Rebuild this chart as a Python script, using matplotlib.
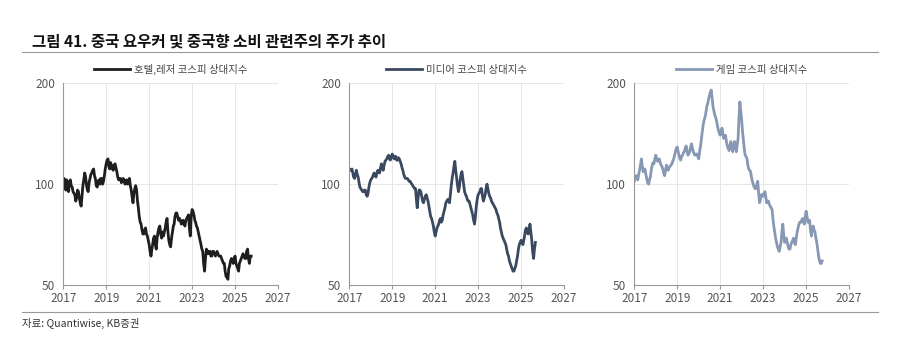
import numpy as np
import pandas as pd
import matplotlib
matplotlib.use('Agg')
import matplotlib.pyplot as plt
import matplotlib.dates as mdates
from matplotlib.ticker import FixedLocator, NullLocator

plt.rcParams['font.family'] = ['Noto Sans CJK KR', 'DejaVu Sans']

# relative index vs KOSPI: start-of-month readings, Jan 2017 onward
hotel = [100, 97, 103, 95, 103, 98, 94, 89, 96, 91, 86, 99,
         108, 99, 95, 104, 108, 111, 104, 98, 103, 104, 100, 106,
         115, 119, 111, 114, 110, 115, 109, 103, 104, 102, 103, 101,
         100, 104, 96, 88, 97, 96, 85, 77, 73, 71, 74, 70,
         66, 61, 66, 70, 64, 72, 75, 69, 70, 74, 79, 68,
         65, 72, 76, 82, 80, 79, 76, 78, 75, 79, 81, 70,
         84, 81, 77, 74, 70, 66, 63, 55, 64, 62, 63, 61,
         63, 61, 63, 61, 61, 59, 58, 53, 52, 57, 60, 58,
         61, 57, 55, 59, 61, 61, 60, 64, 58, 61]
# mid-month readings
hotel_mid = [104, 96, 99, 101, 99, 95, 93, 91, 95, 88, 92, 103,
             105, 96, 101, 107, 110, 106, 99, 102, 100, 104, 102, 111,
             118, 113, 116, 111, 114, 112, 105, 104, 101, 104, 100, 103,
             102, 99, 92, 94, 99, 89, 80, 76, 71, 73, 71, 68,
             63, 64, 69, 66, 69, 74, 71, 72, 72, 77, 72, 66,
             69, 75, 80, 82, 78, 78, 77, 76, 78, 80, 74, 80,
             83, 78, 75, 72, 68, 64, 58, 60, 63, 63, 61, 63,
             62, 62, 62, 61, 60, 58, 55, 53, 56, 59, 59, 60,
             58, 56, 58, 60, 62, 60, 63, 60, 61]

media = [111, 110, 108, 104, 110, 105, 98, 96, 95, 96, 92, 98,
         103, 105, 108, 105, 110, 108, 115, 110, 117, 119, 122, 118,
         123, 119, 121, 118, 119, 115, 110, 105, 104, 103, 102, 100,
         98, 97, 85, 96, 95, 89, 90, 93, 89, 83, 79, 75,
         70, 74, 76, 79, 78, 83, 88, 90, 88, 99, 108, 117,
         104, 95, 103, 109, 99, 93, 90, 89, 85, 81, 76, 86,
         93, 95, 97, 89, 93, 100, 94, 91, 88, 86, 84, 81,
         77, 72, 69, 67, 64, 61, 58, 56, 55, 57, 61, 66,
         68, 66, 70, 74, 71, 76, 68, 60, 67]
media_mid = [110, 111, 105, 107, 107, 101, 97, 95, 96, 93, 94, 101,
             104, 107, 106, 108, 109, 112, 112, 114, 118, 121, 119, 121,
             121, 121, 118, 120, 117, 112, 107, 104, 104, 102, 101, 99,
             97, 90, 91, 96, 92, 88, 92, 91, 86, 80, 77, 72,
             72, 75, 78, 77, 81, 85, 89, 89, 93, 104, 113, 110,
             99, 98, 107, 104, 95, 92, 89, 87, 83, 78, 80, 90,
             94, 97, 92, 91, 97, 97, 92, 89, 87, 85, 82, 79,
             74, 70, 68, 66, 62, 59, 57, 55, 56, 59, 64, 67,
             67, 68, 73, 72, 73, 72, 63, 64]

game = [102, 106, 103, 110, 119, 109, 111, 104, 100, 105, 114, 115,
        122, 117, 119, 114, 111, 106, 114, 110, 113, 115, 119, 125,
        129, 122, 118, 122, 125, 130, 122, 125, 132, 125, 122, 123,
        119, 130, 143, 155, 163, 174, 184, 191, 170, 161, 154, 145,
        140, 147, 137, 140, 130, 126, 134, 125, 134, 125, 137, 176,
        155, 134, 122, 119, 111, 109, 102, 98, 97, 102, 88, 93,
        92, 95, 88, 89, 86, 84, 75, 69, 65, 63, 67, 76,
        67, 69, 65, 64, 67, 69, 66, 72, 76, 77, 79, 76,
        83, 77, 78, 70, 75, 72, 67, 61, 58, 59]
game_mid = [105, 104, 107, 114, 113, 111, 107, 101, 103, 110, 116, 119,
            119, 118, 116, 113, 108, 110, 111, 112, 114, 117, 122, 128,
            125, 119, 121, 124, 128, 126, 123, 129, 128, 123, 123, 121,
            125, 137, 150, 158, 170, 179, 188, 180, 165, 158, 149, 142,
            144, 141, 139, 134, 128, 131, 129, 130, 129, 131, 158, 165,
            143, 127, 121, 114, 110, 105, 100, 97, 100, 94, 90, 93,
            94, 91, 89, 87, 85, 79, 72, 67, 64, 65, 72, 71,
            68, 67, 64, 66, 68, 67, 69, 74, 77, 78, 77, 80,
            80, 78, 73, 73, 73, 69, 64, 59, 58]

series = [
    ('호텔,레저 코스피 상대지수', hotel, hotel_mid, '#1e1e1e'),
    ('미디어 코스피 상대지수', media, media_mid, '#3b4960'),
    ('게임 코스피 상대지수', game, game_mid, '#8798b5'),
]
year_ticks = [pd.Timestamp(f'{y}-01-01') for y in range(2017, 2028, 2)]

fig = plt.figure(figsize=(9, 3.61), dpi=100)

lefts = [0.0703, 0.3881, 0.7048]
for left, (label, vals, mids, color) in zip(lefts, series):
    ax = fig.add_axes([left, 0.2105, 0.2386, 0.5587])
    d1 = pd.date_range('2017-01-01', periods=len(vals), freq='MS')
    d2 = d1[:len(mids)] + pd.Timedelta(days=15)
    s = pd.concat([pd.Series(vals, index=d1), pd.Series(mids, index=d2)]).sort_index()
    ax.plot(s.index, s.values, color=color, lw=2.0, label=label)
    ax.set_yscale('log')
    ax.set_ylim(50, 200)
    ax.yaxis.set_major_locator(FixedLocator([50, 100, 200]))
    ax.yaxis.set_minor_locator(NullLocator())
    ax.set_yticklabels(['50', '100', '200'])
    ax.set_xlim(pd.Timestamp('2017-01-01'), pd.Timestamp('2027-01-01'))
    ax.xaxis.set_major_locator(FixedLocator(mdates.date2num(year_ticks)))
    ax.xaxis.set_major_formatter(mdates.DateFormatter('%Y'))
    ax.grid(True, color='#e6e6e6', lw=0.7)
    ax.set_axisbelow(True)
    for sp in ['top', 'right']:
        ax.spines[sp].set_visible(False)
    for sp in ['left', 'bottom']:
        ax.spines[sp].set_color('#999999')
        ax.spines[sp].set_linewidth(0.8)
    ax.tick_params(axis='y', length=0, labelsize=8.5, labelcolor='#555555', pad=6)
    ax.tick_params(axis='x', length=3, color='#999999', labelsize=8.5,
                   labelcolor='#555555', pad=2)
    ax.legend(loc='lower center', bbox_to_anchor=(0.5, 0.995), frameon=False,
              fontsize=7.5, handlelength=3.5, handletextpad=0.4,
              labelcolor='#444444')

fig.text(0.035, 0.87, '그림 41. 중국 요우커 및 중국향 소비 관련주의 주가 추이',
         fontsize=11.2, fontweight='bold', color='#111111')
fig.add_artist(plt.Line2D([0.024, 0.976], [0.856, 0.856], color='#999999', lw=0.8))
fig.add_artist(plt.Line2D([0.024, 0.976], [0.136, 0.136], color='#999999', lw=0.8))
fig.text(0.025, 0.095, '자료: Quantiwise, KB증권', fontsize=7.5, color='#333333')

fig.savefig('out.png', dpi=100)
